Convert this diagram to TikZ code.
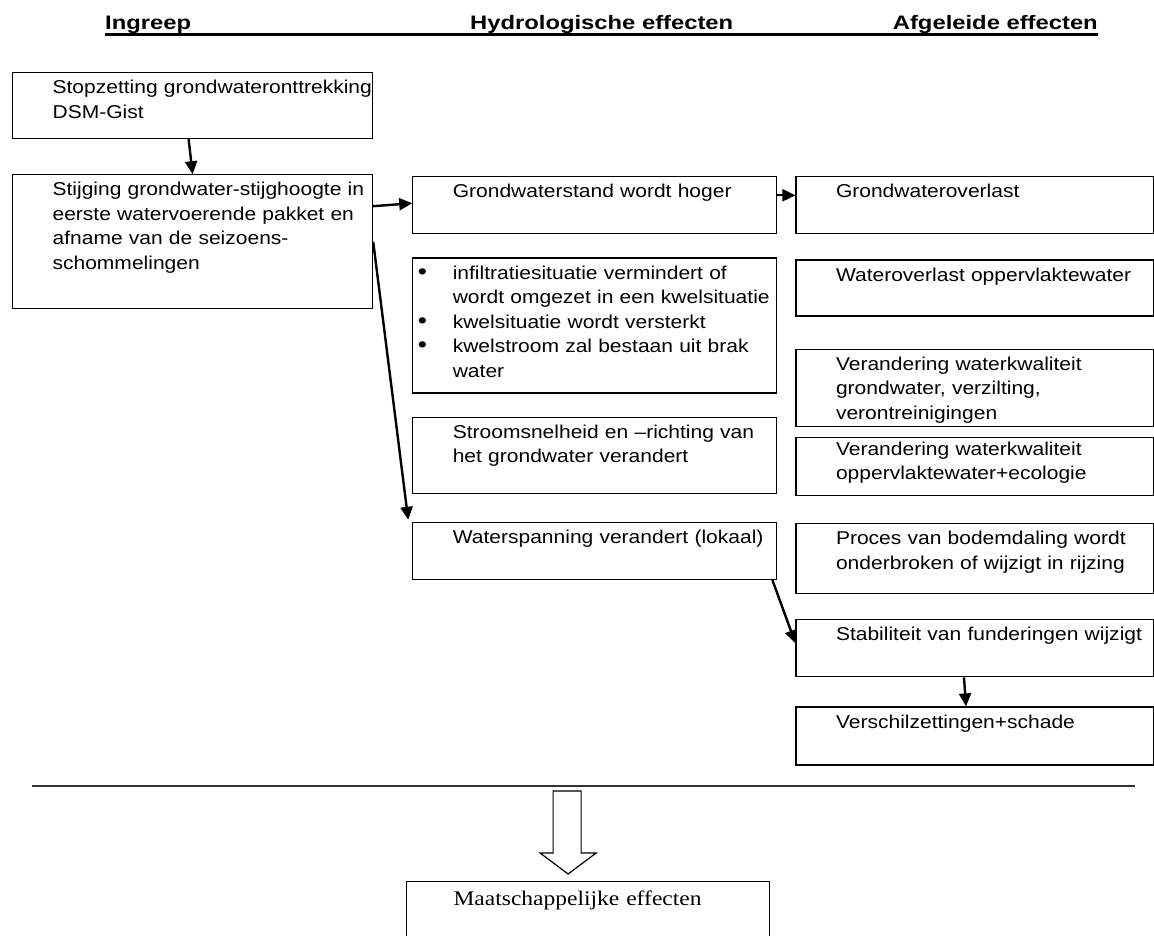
\documentclass[tikz,border=0pt]{standalone}
\usepackage{fontspec}
\usepackage{tikz}
\usetikzlibrary{positioning,arrows.meta}
\setmainfont{Liberation Sans}[FakeStretch=1.13]
\newfontfamily\headfont{Liberation Sans}[FakeStretch=1.22]
\newfontfamily\maatfont{Liberation Serif}[FakeStretch=1.13]
\definecolor{rulegray}{HTML}{333333}
\newcommand{\bul}{\leavevmode\llap{\makebox[35pt][l]{\fontsize{23}{23}\selectfont\textbullet}}}

\begin{document}
\begin{tikzpicture}[x=1pt, y=-1pt, font=\fontsize{18.6}{24.5}\selectfont]
        % Define styles
        \tikzstyle{effect} = [rectangle, draw, line width=1.2pt, anchor=north west, inner sep=0pt, text height=21pt, execute at begin node={\leftskip=40pt\rightskip=-40pt plus 1fil\hyphenpenalty=10000\exhyphenpenalty=10000}]
        \tikzstyle{left col} = [effect, text width=360pt]
        \tikzstyle{mid col} = [effect, text width=364pt]
        \tikzstyle{right col} = [effect, text width=358pt]
        \tikzstyle{head} = [inner sep=0pt, anchor=base west, font=\headfont\bfseries\fontsize{19.5}{22}\selectfont]
        \tikzstyle{arrow} = [line width=2.4pt, -{Triangle[length=13pt,width=12pt]}]

        \useasboundingbox (0,0) rectangle (1154,936);

        % Headings
        \node (ingreep) [head] at (105,30) {Ingreep};
        \node (hydro) [head] at (470,30) {Hydrologische effecten};
        \node (afgeleid) [head, anchor=base east] at (1098,30) {Afgeleide effecten};
        \draw[line width=3pt] ([yshift=-4.5pt]ingreep.base west) -- ([yshift=-4.5pt]afgeleid.base east);

        % Ingreep
        \node (stop) [left col, text depth=45pt] at (12,72) {Stopzetting grondwateronttrekking\\DSM-Gist};
        \node (stijg) [left col, text depth=113pt, below right=35pt and 0pt of stop.south west] {Stijging grondwater-stijghoogte in\\eerste watervoerende pakket en\\afname van de seizoens-\\schommelingen};

        % Hydrologische effecten
        \node (hoger) [mid col, text depth=36pt, below right=2pt and 39pt of stijg.north east] {Grondwaterstand wordt hoger};
        \node (bullets) [mid col, text depth=114pt, below right=23pt and 0pt of hoger.south west] {\bul infiltratiesituatie vermindert of\\wordt omgezet in een kwelsituatie\par\bul kwelsituatie wordt versterkt\par\bul kwelstroom zal bestaan uit brak\\water};
        \node (stroom) [mid col, text depth=55pt, below right=23pt and 0pt of bullets.south west] {Stroomsnelheid en –richting van\\het grondwater verandert};
        \node (water) [mid col, text depth=36pt, below right=28pt and 0pt of stroom.south west] {Waterspanning verandert (lokaal)};

        % Afgeleide effecten
        \node (overlast) [right col, text depth=36pt, below right=0pt and 18pt of hoger.north east] {Grondwateroverlast};
        \node (opp) [right col, text depth=35pt, below right=25pt and 0pt of overlast.south west] {Wateroverlast oppervlaktewater};
        \node (kwalgw) [right col, text depth=56pt, below right=32pt and 0pt of opp.south west] {Verandering waterkwaliteit\\grondwater, verzilting,\\verontreinigingen};
        \node (kwalow) [right col, text height=18pt, text depth=40pt, below right=10pt and 0pt of kwalgw.south west] {Verandering waterkwaliteit\\oppervlaktewater+ecologie};
        \node (daling) [right col, text depth=49pt, below right=27pt and 0pt of kwalow.south west] {Proces van bodemdaling wordt\\onderbroken of wijzigt in rijzing};
        \node (stab) [right col, text depth=36pt, below right=25pt and 0pt of daling.south west] {Stabiliteit van funderingen wijzigt};
        \node (schade) [right col, text depth=37pt, below right=29pt and 0pt of stab.south west] {Verschilzettingen+schade};

        % Arrows
        \draw[arrow] ([xshift=-4pt]stop.south) -- (stijg.north);
        \draw[arrow] ([yshift=-32pt]stijg.north east) -- ([yshift=-27pt]hoger.north west);
        \draw[arrow] ([yshift=10pt]hoger.east) -- ([yshift=10pt]overlast.west);
        \draw[arrow] (stijg.east) -- ([xshift=-4pt,yshift=2pt]water.north west);
        \draw[arrow] ([xshift=-5pt]water.south east) -- ([yshift=-24pt]stab.north west);
        \draw[arrow] ([xshift=-11pt]stab.south) -- ([xshift=-9pt]schade.north);

        % Maatschappelijke effecten
        \coordinate (rule l) at (32,786);
        \coordinate (rule r) at (1135,786);
        \draw[rulegray, line width=1.5pt] (rule l) -- (rule r);
        \node (maat) [effect, text width=363pt, text height=24pt, text depth=46pt, font=\maatfont\fontsize{20.8}{25}\selectfont, execute at begin node={\leftskip=47pt}] at (406,881) {Maatschappelijke effecten};
        \coordinate (tip) at ([xshift=-20pt,yshift=7pt]maat.north);
        \draw[line width=1.2pt] (tip) -- ++(-28,-21) -- ++(13,0) -- ++(0,-62) -- ++(28,0) -- ++(0,62) -- ++(15,0) -- cycle;
\end{tikzpicture}
\end{document}
